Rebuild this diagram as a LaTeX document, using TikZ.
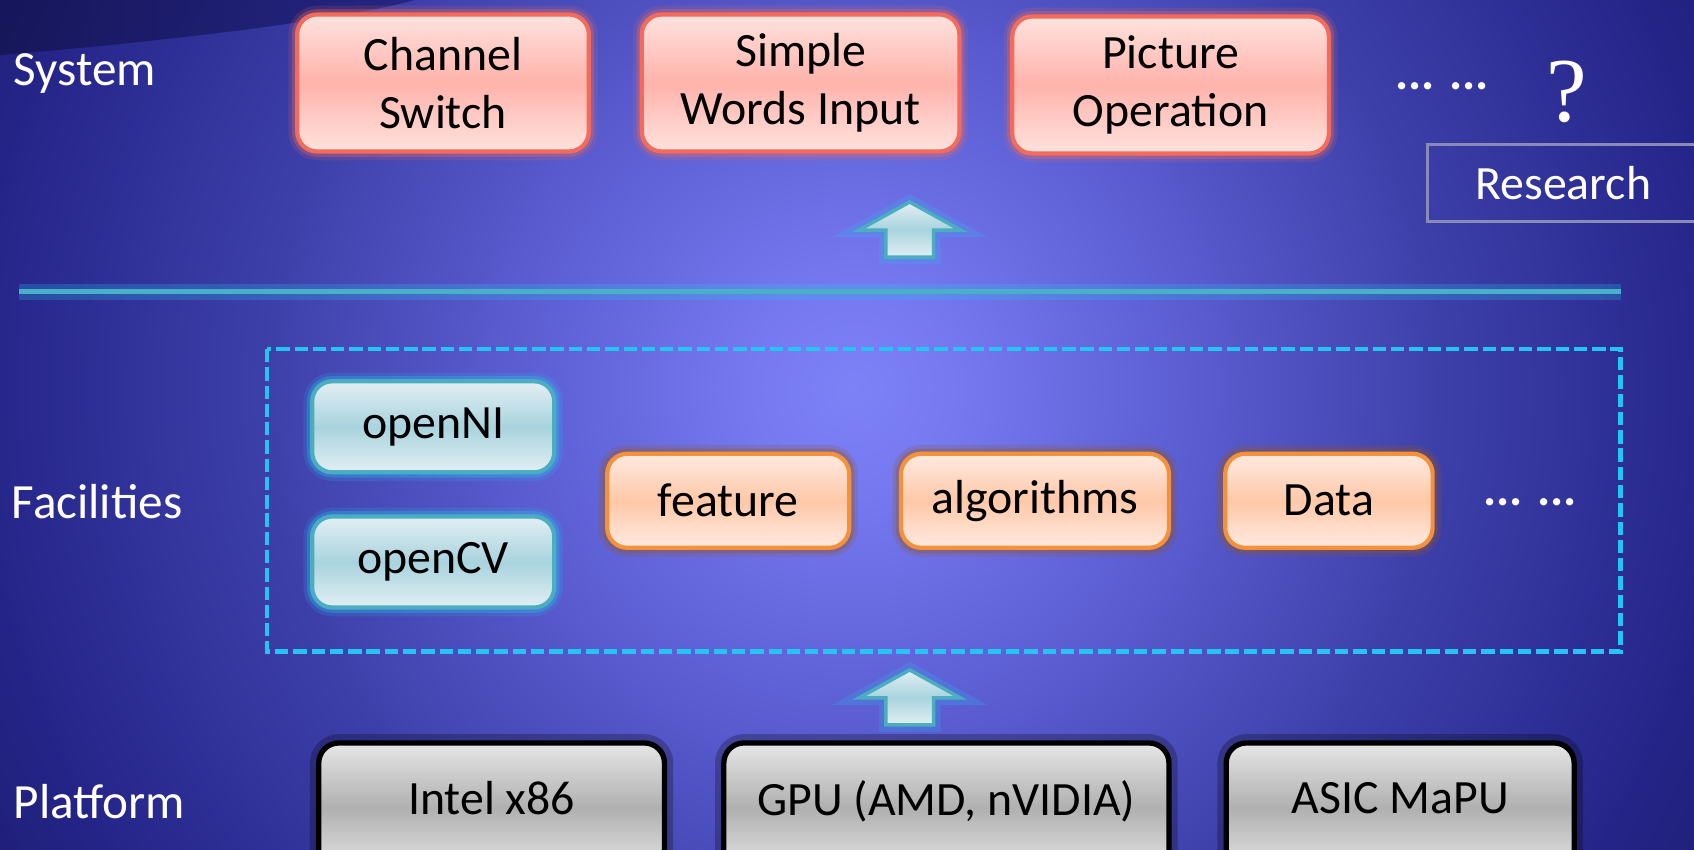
\documentclass[tikz,border=0pt]{standalone}
\usepackage{fontspec}
\setmainfont{Carlito}
\newfontfamily\qfont{Liberation Serif}
\usepackage{tikz}
\usetikzlibrary{positioning}

\definecolor{bgA}{HTML}{7E82F7}
\definecolor{bgB}{HTML}{7578EF}
\definecolor{bgC}{HTML}{5A5CD0}
\definecolor{bgD}{HTML}{3E40AA}
\definecolor{bgE}{HTML}{25258A}
\definecolor{bgF}{HTML}{1A1A6A}
\definecolor{sysline}{HTML}{F26B5B}
\definecolor{syslite}{HTML}{FFE2DE}
\definecolor{sysmid}{HTML}{FFB3AB}
\definecolor{libline}{HTML}{4AAEC0}
\definecolor{liblite}{HTML}{E2EFF3}
\definecolor{libmid}{HTML}{A9D3DE}
\definecolor{algline}{HTML}{F5913A}
\definecolor{alglite}{HTML}{FFEAE0}
\definecolor{algmid}{HTML}{FFC8A8}
\definecolor{hwlite}{HTML}{E6E6E6}
\definecolor{hwmid}{HTML}{B0B0B0}
\definecolor{cyanline}{HTML}{25C4F2}
\definecolor{tealline}{HTML}{4AB0C8}
\definecolor{resline}{HTML}{8A8AB8}

\pgfdeclareradialshading{bgglow}{\pgfpoint{0bp}{0bp}}{color(0bp)=(bgA); color(2.5bp)=(bgB); color(8bp)=(bgC); color(13.5bp)=(bgD); color(20bp)=(bgE); color(25bp)=(bgF); color(50bp)=(bgF)}

\begin{document}
\begin{tikzpicture}[
    lbl/.style={text=white, anchor=west, inner sep=0pt, font=\fontsize{14}{16.5}\selectfont},
    box/.style={rounded corners=0.2cm, align=center, text=black, inner sep=0pt,
                font=\fontsize{13.6}{16.4}\selectfont, line width=1.2pt},
    sysbox/.style={box, draw=sysline, top color=syslite, bottom color=syslite, middle color=sysmid,
                   minimum height=1.37cm,
                   preaction={draw=sysline, line width=5pt, opacity=0.15},
                   preaction={draw=sysline, line width=3pt, opacity=0.3}},
    libbox/.style={box, draw=libline, top color=liblite, bottom color=liblite, middle color=libmid,
                   minimum width=2.42cm, minimum height=0.91cm,
                   preaction={draw=cyanline, line width=5pt, opacity=0.15},
                   preaction={draw=cyanline, line width=3pt, opacity=0.3}},
    algbox/.style={box, draw=algline, top color=alglite, bottom color=alglite, middle color=algmid,
                   minimum height=0.94cm,
                   preaction={draw=algline!60!black, line width=5pt, opacity=0.2},
                   preaction={draw=algline!60!black, line width=3pt, opacity=0.3}},
    hwbox/.style={box, draw=black, line width=1.5pt, top color=hwlite, bottom color=hwlite, middle color=hwmid,
                  minimum height=1.3cm,
                  preaction={draw=black, line width=5pt, opacity=0.25}},
    uparrow/.style={draw=libline, line width=1pt, top color=liblite, bottom color=liblite, middle color=libmid,
                    preaction={draw=cyanline, line width=4pt, opacity=0.2}},
    dots/.style={text=white, font=\bfseries\fontsize{14}{16.5}\selectfont}
  ]
  \useasboundingbox (0,0) rectangle (16.94,-8.50);
  \begin{scope}
    \clip (0,0) rectangle (16.94,-8.50);
    \shade[shading=bgglow] (8.535,-3.889) circle (10.8);
    \shade[left color=bgF!80!black, right color=bgE!90!black, opacity=0.85]
      (0,0) -- (4.15,0) .. controls (3.4,-0.2) and (1.8,-0.40) .. (0,-0.551) -- cycle;

    \node[lbl] (sys)  at (0.13,-0.735) {System};
    \node[lbl] (fac)  at (0.11,-5.02)  {Facilities};
    \node[lbl] (plat) at (0.13,-8.02)  {Platform};

    \node[sysbox, minimum width=2.917cm] (chan) at (4.430,-0.83)  {Channel\\Switch};
    \node[sysbox, minimum width=3.176cm] (words) at (8.006,-0.83) {Simple\\Words Input};
    \node[sysbox, minimum width=3.166cm] (pic) at (11.706,-0.85)  {Picture\\Operation};
    \node[dots] (sysmore) at (14.42,-0.86) {... ...};
    \node[text=white, font=\qfont\fontsize{26}{26}\selectfont] (quest) at (15.67,-0.92) {?};
    \node[draw=resline, line width=0.8pt, minimum width=2.72cm, minimum height=0.767cm,
          text=white, font=\fontsize{13.6}{16.4}\selectfont] (res) at (15.633,-1.83) {Research};

    \coordinate (lift1) at (9.097,-2.020);
    \shadedraw[uparrow] (lift1) -- ++(0.508,-0.281) -- ++(-0.270,0) -- ++(0,-0.270)
      -- ++(-0.476,0) -- ++(0,0.270) -- ++(-0.270,0) -- cycle;

    \coordinate (sepL) at (0.194,-2.917);
    \coordinate (sepR) at (16.206,-2.917);
    \draw[tealline, line width=1.3pt, preaction={draw=cyanline, line width=4.5pt, opacity=0.25}] (sepL) -- (sepR);

    \draw[cyanline, line width=1.3pt, dash pattern=on 3.8pt off 1.4pt] (2.669,-3.490) rectangle (16.206,-6.515);

    \node[libbox] (ni) at (4.332,-4.268) {openNI};
    \node[libbox, below=0.40cm of ni] (cv) {openCV};
    \node[algbox, minimum width=2.420cm] (feat) at (7.282,-5.008)  {feature};
    \node[algbox, minimum width=2.679cm] (algo) at (10.350,-5.008) {algorithms};
    \node[algbox, minimum width=2.074cm] (data) at (13.289,-5.008) {Data};
    \node[dots] (facmore) at (15.30,-5.02) {... ...};

    \coordinate (lift2) at (9.097,-6.699);
    \shadedraw[uparrow] (lift2) -- ++(0.508,-0.281) -- ++(-0.270,0) -- ++(0,-0.270)
      -- ++(-0.476,0) -- ++(0,0.270) -- ++(-0.270,0) -- cycle;

    \node[hwbox, minimum width=3.457cm] (intel) at (4.916,-8.08)  {\raisebox{0.9ex}{Intel x86}};
    \node[hwbox, minimum width=4.451cm] (gpu)   at (9.464,-8.08)  {\raisebox{0.9ex}{GPU (AMD, nVIDIA)}};
    \node[hwbox, minimum width=3.479cm] (asic)  at (14.002,-8.08) {\raisebox{0.9ex}{ASIC MaPU}};
  \end{scope}
\end{tikzpicture}
\end{document}
